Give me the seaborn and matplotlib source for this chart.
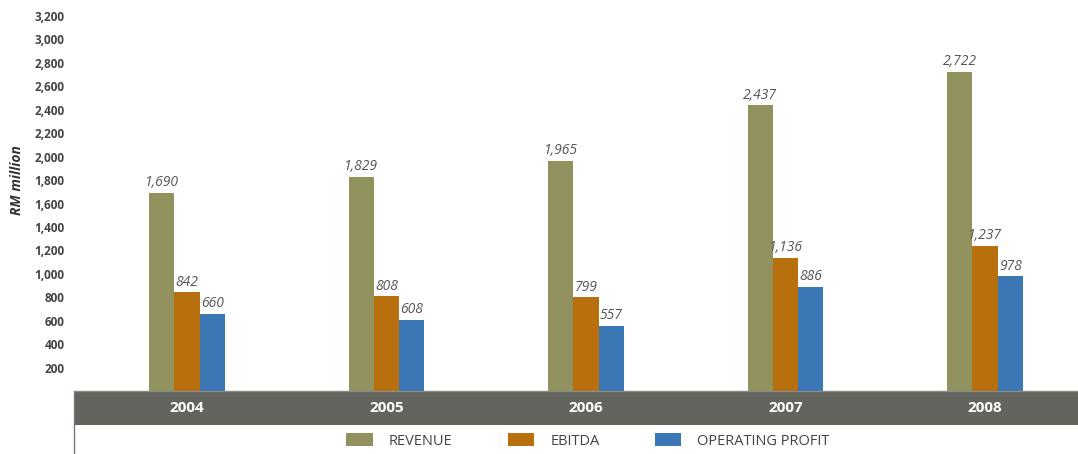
import matplotlib
matplotlib.use("Agg")
import matplotlib.pyplot as plt
import seaborn as sns
import pandas as pd
from matplotlib.patches import Patch
from matplotlib.lines import Line2D

years = ["2004", "2005", "2006", "2007", "2008"]
revenue = [1690, 1829, 1965, 2437, 2722]
ebitda = [842, 808, 799, 1136, 1237]
operating_profit = [660, 608, 557, 886, 978]
series_names = ["REVENUE", "EBITDA", "OPERATING PROFIT"]
y_ticks = [200, 400, 600, 800, 1000, 1200, 1400, 1600, 1800, 2000,
           2200, 2400, 2600, 2800, 3000, 3200]
colors = ["#92925f", "#b8700f", "#3b76b5"]

sns.set_theme(style="white")
plt.rcParams["font.family"] = ["Open Sans", "DejaVu Sans"]

df = pd.DataFrame({
    "year": years * 3,
    "value": revenue + ebitda + operating_profit,
    "metric": [series_names[0]] * 5 + [series_names[1]] * 5 + [series_names[2]] * 5,
})

W, H = 1078, 454
fig = plt.figure(figsize=(W / 100, H / 100), dpi=100)
left = 74 / W
ax = fig.add_axes([left, 1 - 391 / H, 1 - left, 391 / H])

sns.barplot(data=df, x="year", y="value", hue="metric", hue_order=series_names,
            palette=colors, width=0.38, saturation=1, ax=ax, legend=False,
            edgecolor="none")

for cont in ax.containers:
    ax.bar_label(cont, labels=[f"{v:,.0f}" for v in cont.datavalues],
                 padding=2, fontsize=10, fontstyle="italic", color="#555555")

ax.set_xlim(-0.566, 4.466)
ax.set_ylim(0, 3337)
ax.set_yticks(y_ticks)
ax.set_yticklabels([f"{t:,}" for t in y_ticks], fontsize=8.5, fontweight="bold",
                   color="#444444")
ax.tick_params(axis="y", length=0, pad=7)
ax.set_xticks([])
ax.set_xlabel("")
ax.set_ylabel("")
for s in ax.spines.values():
    s.set_visible(False)

fig.text(17 / W, 1 - 180 / H, "RM million", rotation=90, ha="center", va="center",
         fontsize=10, fontweight="bold", fontstyle="italic", color="#333333")

# gray band with year labels
band = fig.add_axes([left, 1 - 425 / H, 1 - left, 34 / H], sharex=ax)
band.set_facecolor("#63645d")
band.set_ylim(0, 1)
band.set_yticks([])
band.tick_params(axis="x", length=0, labelbottom=False)
for s in band.spines.values():
    s.set_visible(False)
band.spines["top"].set_visible(True)
band.spines["top"].set_color("#8a8b85")
band.spines["top"].set_linewidth(1)
for i, y in enumerate(years):
    band.text(i, 0.5, y, ha="center", va="center", color="white",
              fontsize=11, fontweight="bold")

fig.add_artist(Line2D([left, left], [0, 1 - 391 / H], transform=fig.transFigure,
                      color="#777777", linewidth=1))

handles = [Patch(facecolor=c, edgecolor="none") for c in colors]
fig.legend(handles, series_names, loc="center", bbox_to_anchor=(588 / W, 1 - 441 / H),
           ncol=3, frameon=False, fontsize=10.5, handlelength=1.8, handleheight=1.0,
           handletextpad=1.1, columnspacing=3.8, labelcolor="#444444")

fig.savefig("out.png", dpi=100)
